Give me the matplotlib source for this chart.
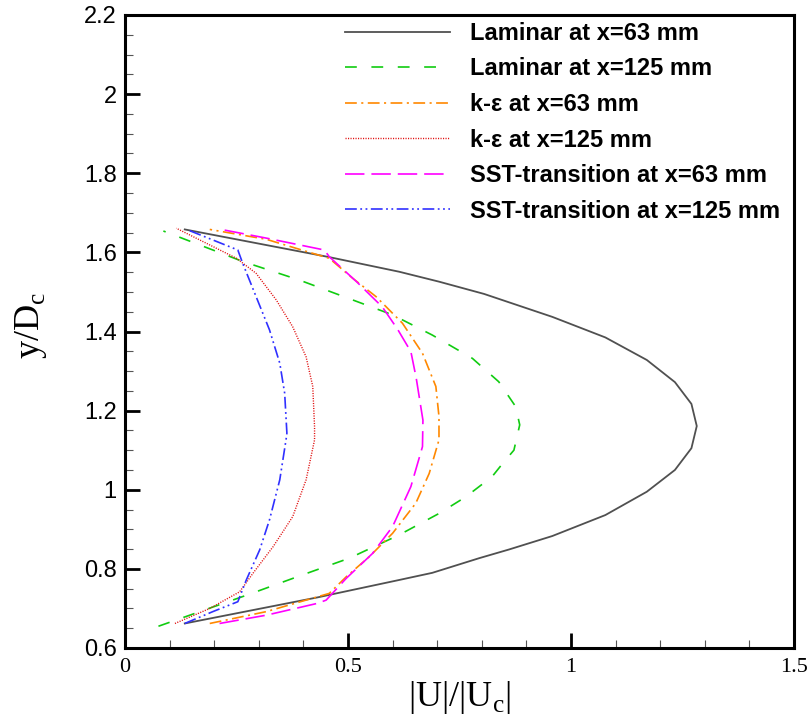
import matplotlib
matplotlib.use('Agg')
import matplotlib.pyplot as plt
from matplotlib.ticker import MultipleLocator

# |U|/|Uc| profiles, listed bottom to top (y/Dc)
lam63_y = [0.662, 0.728, 0.772, 0.790, 0.827, 0.849, 0.883, 0.936, 0.995, 1.050, 1.105,
           1.161, 1.217, 1.272, 1.328, 1.385, 1.437, 1.495, 1.526, 1.551, 1.588, 1.658]
lam63_u = [0.134, 0.432, 0.615, 0.689, 0.794, 0.861, 0.958, 1.077, 1.170, 1.233, 1.270,
           1.282, 1.270, 1.233, 1.170, 1.077, 0.958, 0.805, 0.704, 0.615, 0.458, 0.134]

lam125_y = [0.655, 0.692, 0.736, 0.782, 0.827, 0.886, 0.940, 0.982, 1.033, 1.071, 1.100,
            1.164, 1.210, 1.273, 1.332, 1.391, 1.442, 1.480, 1.530, 1.577, 1.654]
lam125_u = [0.075, 0.168, 0.279, 0.391, 0.503, 0.615, 0.704, 0.764, 0.823, 0.850, 0.872,
            0.885, 0.876, 0.838, 0.779, 0.689, 0.600, 0.510, 0.391, 0.264, 0.086]

ke63_y = [0.662, 0.692, 0.726, 0.738, 0.780, 0.831, 0.890, 0.966, 1.041, 1.126, 1.185,
          1.261, 1.345, 1.421, 1.488, 1.535, 1.585, 1.633, 1.658]
ke63_u = [0.190, 0.317, 0.421, 0.458, 0.496, 0.548, 0.600, 0.652, 0.682, 0.704, 0.704,
          0.697, 0.667, 0.622, 0.563, 0.510, 0.458, 0.317, 0.190]

ke125_y = [0.662, 0.700, 0.742, 0.789, 0.856, 0.932, 1.025, 1.126, 1.159, 1.261, 1.336,
           1.412, 1.480, 1.547, 1.585, 1.661]
ke125_u = [0.112, 0.190, 0.257, 0.287, 0.332, 0.376, 0.406, 0.425, 0.425, 0.421, 0.406,
           0.376, 0.339, 0.294, 0.250, 0.115]

sst63_y = [0.662, 0.683, 0.713, 0.721, 0.776, 0.839, 0.907, 1.008, 1.109, 1.176, 1.282,
           1.349, 1.406, 1.462, 1.525, 1.589, 1.606, 1.636, 1.657]
sst63_u = [0.212, 0.317, 0.432, 0.451, 0.496, 0.555, 0.600, 0.641, 0.667, 0.668, 0.653,
           0.641, 0.611, 0.577, 0.520, 0.458, 0.447, 0.317, 0.220]

sst125_y = [0.662, 0.692, 0.717, 0.772, 0.848, 0.924, 1.025, 1.126, 1.143, 1.244, 1.320,
            1.404, 1.488, 1.572, 1.606, 1.658]
sst125_u = [0.134, 0.197, 0.253, 0.272, 0.302, 0.324, 0.347, 0.361, 0.363, 0.358, 0.347,
            0.324, 0.294, 0.264, 0.253, 0.138]

labels = ['Laminar at x=63 mm', 'Laminar at x=125 mm', 'k-\u03b5 at x=63 mm',
          'k-\u03b5 at x=125 mm', 'SST-transition at x=63 mm', 'SST-transition at x=125 mm']

plt.rcParams['lines.scale_dashes'] = False
plt.rcParams['mathtext.fontset'] = 'custom'
plt.rcParams['mathtext.rm'] = 'Liberation Serif'

fig = plt.figure(figsize=(8.09, 7.25), dpi=100)
ax = fig.add_axes([125 / 809, 1 - 648 / 725, (794 - 125) / 809, (648 - 15) / 725])

ax.plot(lam63_u, lam63_y, color='#505050', lw=1.3, label=labels[0])
ax.plot(lam125_u, lam125_y, color='#11cc11', lw=1.2, dashes=(8.5, 10.5), label=labels[1])
ax.plot(ke63_u, ke63_y, color='#ff8800', lw=1.2, dashes=(8.5, 3.2, 1.5, 3.2), label=labels[2])
ax.plot(ke125_u, ke125_y, color='#e01010', lw=1.0, dashes=(0.8, 1.0), label=labels[3])
ax.plot(sst63_u, sst63_y, color='#ff00ff', lw=1.2, dashes=(14, 5), label=labels[4])
ax.plot(sst125_u, sst125_y, color='#3030ff', lw=1.2,
        dashes=(8.5, 2.5, 1.3, 2.5, 1.3, 2.5), label=labels[5])

ax.set_xlim(0, 1.5)
ax.set_ylim(0.6, 2.2)
ax.xaxis.set_minor_locator(MultipleLocator(0.1))
ax.yaxis.set_minor_locator(MultipleLocator(0.05))
ax.set_xticks([0, 0.5, 1, 1.5], ['0', '0.5', '1', '1.5'])
ax.set_yticks([0.6, 0.8, 1, 1.2, 1.4, 1.6, 1.8, 2, 2.2],
              ['0.6', '0.8', '1', '1.2', '1.4', '1.6', '1.8', '2', '2.2'])

ax.tick_params(which='both', direction='in', top=False, right=False)
ax.tick_params(which='major', length=11, width=2.0)
ax.tick_params(which='minor', length=6, width=0.8, color='#555555')
ax.tick_params(axis='x', which='major', pad=7)
ax.tick_params(axis='y', which='major', pad=6)
for lab in ax.get_xticklabels():
    lab.set_fontfamily('Liberation Serif')
    lab.set_fontsize(16)
for lab in ax.get_yticklabels():
    lab.set_fontfamily('Liberation Sans')
    lab.set_fontsize(17)
for s in ax.spines.values():
    s.set_linewidth(2.2)

ax.set_xlabel(r'|U|/|U$_{\rm c}$|', fontfamily='Liberation Serif', fontsize=26, labelpad=2)
ax.set_ylabel(r'y/D$_{\rm c}$', fontfamily='Liberation Serif', fontsize=26)
ax.yaxis.set_label_coords(-0.113, 0.51)

leg = ax.legend(loc='upper left', bbox_to_anchor=(0.329, 0.989), frameon=False,
                handlelength=4.45, handletextpad=0.85, labelspacing=0.53,
                borderaxespad=0, borderpad=0,
                prop={'family': 'Liberation Sans', 'weight': 'bold', 'size': 17})

fig.savefig('out.png', dpi=100)
